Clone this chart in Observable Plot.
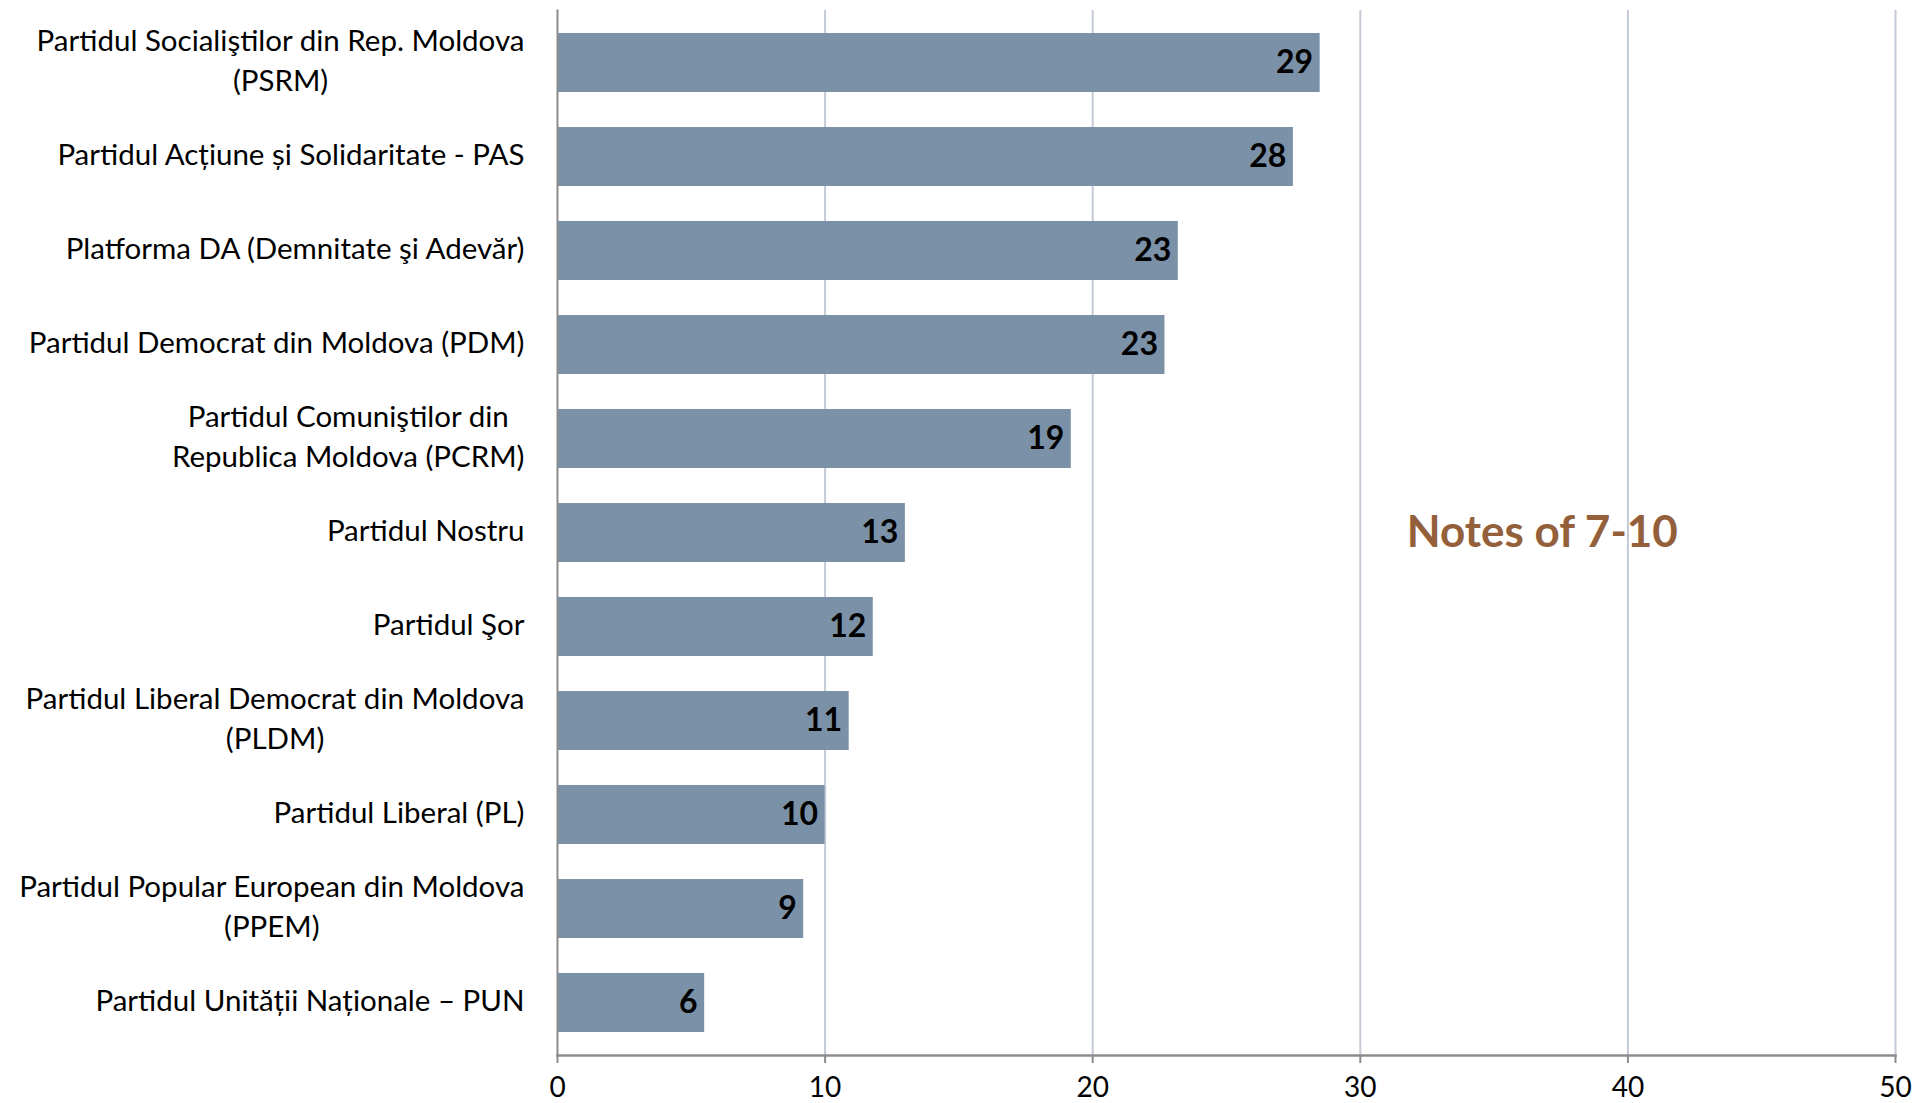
<!DOCTYPE html>
<html>
<head>
<meta charset="utf-8">
<script src="https://cdn.jsdelivr.net/npm/d3@7"></script>
<script src="https://cdn.jsdelivr.net/npm/@observablehq/plot@0.6"></script>
<style>
  html, body { margin: 0; padding: 0; background: #fff; overflow: hidden; }
  #chart svg { display: block; }
</style>
</head>
<body>
<div id="chart"></div>
<script>
// Categories (top to bottom), with line breaks as wrapped in the original
const parties = [
  "Partidul Socialiştilor din Rep. Moldova\n(PSRM)",
  "Partidul Acțiune și Solidaritate - PAS",
  "Platforma DA (Demnitate şi Adevăr)",
  "Partidul Democrat din Moldova (PDM)",
  "Partidul Comuniştilor din\nRepublica Moldova (PCRM)",
  "Partidul Nostru",
  "Partidul Şor",
  "Partidul Liberal Democrat din Moldova\n(PLDM)",
  "Partidul Liberal (PL)",
  "Partidul Popular European din Moldova\n(PPEM)",
  "Partidul Unității Naționale – PUN"
];
// Share of notes 7-10 (%)
const scores = [28.5, 27.5, 23.2, 22.7, 19.2, 13.0, 11.8, 10.9, 10.0, 9.2, 5.5];
const xTicks = [0, 10, 20, 30, 40, 50];
const noteText = "Notes of 7-10";

const data = parties.map((p, i) => ({party: p, score: scores[i]}));

const font = "Lato, 'Open Sans', sans-serif";
const chart = Plot.plot({
  width: 1932,
  height: 1103,
  marginLeft: 557,
  marginRight: 37,
  marginTop: 10,
  marginBottom: 48,
  style: {fontFamily: font, background: "#fff", color: "#000"},
  x: {domain: [0, 50], ticks: xTicks, label: null},
  y: {domain: parties, range: [14, 1050], paddingInner: 0.377, paddingOuter: 0.1885, label: null},
  marks: [
    Plot.ruleX(xTicks.filter(t => t > 0), {stroke: "#c3cad5", strokeWidth: 2}),
    Plot.barX(data, {x: "score", y: "party", fill: "#7b91a7"}),
    Plot.text(data, {
      x: "score", y: "party",
      text: d => String(Math.round(d.score)),
      textAnchor: "end", dx: -7,
      fontWeight: "bold", fontSize: 32, fill: "#000"
    }),
    Plot.text([noteText], {
      x: [36.8], y: [parties[5]], text: d => d,
      fontWeight: "bold", fontSize: 44, fill: "#93603b"
    }),
    Plot.frame({anchor: "left", stroke: "#8c8c8c", strokeWidth: 2}),
    Plot.frame({anchor: "bottom", stroke: "#8c8c8c", strokeWidth: 2.5}),
    Plot.axisX({ticks: xTicks, label: null, tickSize: 8, tickPadding: 14, fontSize: 28, stroke: "#8c8c8c", strokeWidth: 2, tickFormat: d => String(d)}),
    Plot.axisY({label: null, tickSize: 0, tickPadding: 33, fontSize: 29.5, lineHeight: 1.36, dy: -5})
  ]
});

document.getElementById("chart").append(chart);

// Center wrapped lines of category labels on their widest line (Excel style)
chart.querySelectorAll('g[aria-label="y-axis tick label"] text').forEach(t => {
  const spans = t.querySelectorAll("tspan");
  if (spans.length < 2) return;
  const ws = [...spans].map(s => s.getComputedTextLength());
  const maxW = Math.max(...ws);
  spans.forEach((s, i) => {
    const x0 = +(s.getAttribute("x") || 0);
    s.setAttribute("x", x0 - (maxW - ws[i]) / 2);
  });
});
</script>
</body>
</html>
